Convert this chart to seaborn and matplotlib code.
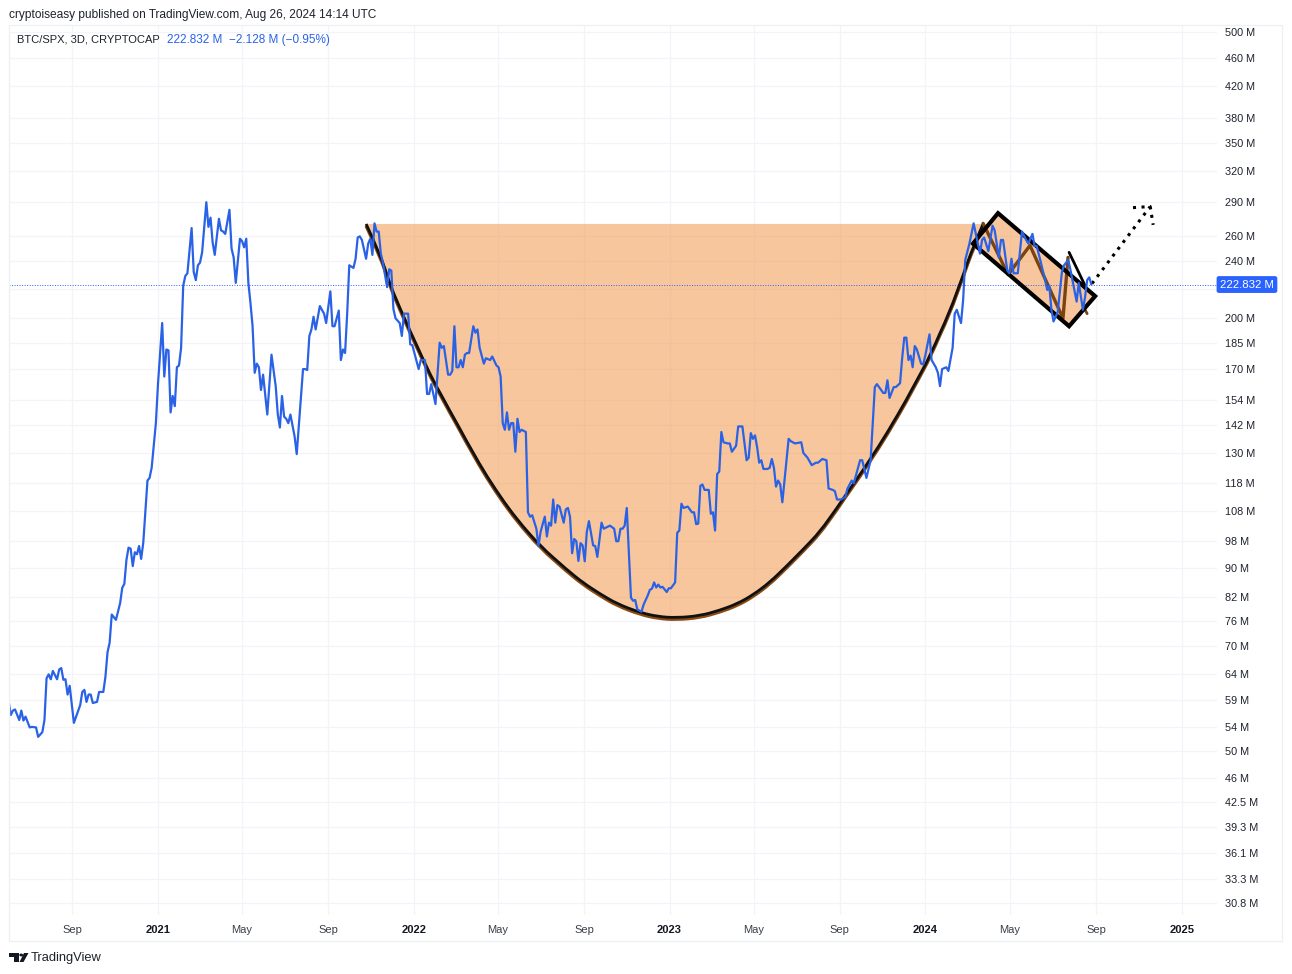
import matplotlib
matplotlib.use("Agg")
import matplotlib.pyplot as plt
import matplotlib.dates as mdates
from matplotlib.patches import Rectangle, Circle, Polygon, PathPatch
from matplotlib.path import Path
from matplotlib.transforms import blended_transform_factory
import numpy as np
import pandas as pd
import seaborn as sns

# ---- data: (3-day bar number counted from 2021-01-01, BTC/SPX in millions) ----
bars_2020 = [(-71,58.6),(-70,56.2),(-69,57),(-68,57.2),(-66,55.3),(-65,57),(-64,55.2),(-63,55.9),(-61,54),(-60,54.1),
    (-58,54),(-57,52.4),(-55,53.2),(-54,55.3),(-53,63.2),(-52,64),(-51,63),(-50,64.7),(-48,63),(-47,65),(-46,65.3),
    (-45,62.9),(-44,63),(-43,60),(-42,61.7),(-40,54.8),(-37,58),(-36,60.5),(-35,60.9),(-34,58.6),(-33,60),(-32,60),
    (-31,58.4),(-29,58.6),(-28,60.5),(-26,60.5),(-25,63.5),(-24,68.7),(-23,70.8),(-22,77.5),(-20,76.2),(-18,80.4),
    (-17,84.4),(-16,85.5),(-15,92.3),(-14,96),(-13,95.7),(-12,90.5),(-11,94.6),(-10,94),(-9,96.5),(-8,92.6),(-7,97.5),
    (-5,119),(-4,120),(-3,124),(-1,143)]
bars_2021 = [(0,162),(2,197),(3,166),(4,181),(5,180.5),(6,148),(7,156),(8,151),(9,171),(10,172),(11,182),(12,222),(13,229),
    (14,231),(16,267),(17,232),(18,226),(19,237),(20,239),(21,247),(23,290),(24,268),(25,276),(26,255),(27,245),(29,275),
    (30,265),(31,264),(32,262),(34,283),(35,250),(36,243),(37,224),(39,258),(40,256),(41,251),(42,258),(43,224),(44,210),
    (45,195),(46,168),(47,173),(48,171),(49,159),(50,167),(52,147),(54,178),(56,161),(57,147),(58,141),(59,156),(60,146),
    (61,145),(62,143),(63,147),(65,137),(66,129.5),(69,170),(70,170),(71,169.5),(72,189),(73,193),(74,201),(75,193),
    (77,208),(79,203),(80,197),(82,218),(83,195),(84,195),(86,205),(87,175),(88,181),(89,179),(90,203),(91,237),(93,235),
    (94,242),(95,259),(96,260),(97,257),(99,242),(100,254),(101,258),(102,245),(103,271),(104,264),(105,264),(106,246),
    (107,239),(109,221),(110,234),(111,233),(112,206),(113,200),(115,197),(116,189),(117,203),(119,203)]
bars_2022 = [(120,184),(121,183.5),(124,170),(125,175),(127,175),(128,157),(129,157),(130,162),(132,152),(133,168),(134,185),
    (135,182),(136,183),(138,167),(139,167),(140,169),(141,195),(142,171),(143,171),(144,175),(145,171),(146,178),(147,179),
    (148,179),(150,195),(151,191),(152,193),(153,182),(155,173),(156,176),(158,175),(159,177),(161,172),(162,171),(163,166),
    (164,143),(165,140),(166,148),(167,140),(168,143),(169,143),(170,130.5),(171,145),(172,139),(173,140),(175,139),
    (176,107.5),(177,106),(178,106.5),(180,102),(181,96.5),(182,101),(184,106),(185,99.5),(186,104),(187,103),(188,112),
    (189,104),(190,110),(191,109.5),(193,104),(194,108.5),(195,109),(196,106),(197,94.3),(198,98.7),(199,98),(200,92),
    (201,97.4),(202,96.7),(203,91.9),(204,101),(205,104.5),(207,96.7),(208,96.5),(209,93.2),(210,98.4),(211,104),(212,102),
    (215,103),(217,102),(218,98),(219,98),(220,102),(221,102),(222,103),(223,109),(225,81.8),(226,81),(227,81.2),(228,78.8),
    (230,78.2),(231,80),(233,82.4),(234,83.9),(235,84.2),(236,85.9),(237,84.5),(238,85.3),(239,84.5),(240,84.7),(242,83.3)]
bars_2023 = [(243,84.3),(244,84.3),(246,85.9),(247,100.7),(248,101.4),(249,110.5),(250,109),(252,109.5),(254,107.5),(255,107.5),
    (256,103.5),(257,103.7),(258,117),(259,117.5),(260,115.5),(262,115.5),(263,107),(264,107.5),(265,101.4),(266,121.5),
    (267,122.5),(268,139),(269,134.5),(271,134),(272,134),(273,130.5),(275,133),(276,141.5),(278,141.5),(280,127),(281,128),
    (282,138.5),(283,136),(284,137.5),(285,132.5),(286,126),(287,127),(288,123.5),(290,123.5),(291,124),(292,127.5),(293,124),
    (294,116.7),(295,119),(296,117.5),(297,111),(300,136),(301,135),(303,134),(306,134.5),(307,130),(309,128),(311,125),
    (313,126),(314,126),(316,127.5),(318,127),(319,116),(321,115.5),(322,115),(323,112),(325,112),(327,113),(328,116),(330,119),
    (331,118),(334,127),(335,127),(337,120),(339,127),(341,160.5),(342,162),(345,157.5),(346,157.5),(347,164),(348,155),
    (350,160.5),(351,160.5),(353,162.5),(354,176),(355,188),(356,188),(357,175),(358,177.5),(359,171),(360,183),(361,181),
    (363,173),(364,172.5)]
bars_2024 = [(365,177.5),(367,190),(368,175),(370,171),(371,168),(372,161),(373,170),(375,171),(376,169),(378,182),(379,203),
    (380,205.5),(382,197),(383,212),(384,241),(386,254),(388,271),(391,246),(392,257),(393,259),(395,248),(397,269),(398,265),
    (400,243),(401,257),(402,257),(404,233),(405,231),(406,242),(407,231),(409,231),(411,264),(413,257),(414,254),(416,262),
    (417,252),(418,252),(420,239),(422,226),(423,219),(424,222),(425,205.5),(426,198),(428,204),(430,232),(431,237),(433,241),
    (434,234),(437,211),(438,224),(440,205.5),(441,214),(442,226),(443,228),(444,222.832)]

cup_curve = [(99,270.5),(105.6,246),(110.4,222.5),(115.1,206.6),(119.9,192),(125.6,176.7),(130.8,164),(138.9,148.6),(147,134.6),
    (154.6,123),(162.7,113.1),(170.8,105),(181.7,96.5),(194.6,89.4),(202.2,85.8),(210.3,82.8),(218.4,80.2),(229.3,78),(237.9,77),
    (246.4,76.7),(257.8,77.2),(267.4,78.6),(275.4,80.2),(283,82.5),(291.2,86),(299.2,90.6),(306.8,95.4),(314.9,101),(323,109),
    (330.6,117.5),(335.4,123),(344.9,135.5),(354.4,151),(361,164),(367.2,177),(376.8,204.5),(383,229.5),(387.7,251),(392.5,270.5)]
flag_box = [(399.6,280),(445.8,214.7),(433.4,195),(387.7,254)]
flag_zigzag = [(392.5,271),(404.4,230),(414.8,252.5),(430.5,200),(432.9,243)]
flag_leg = [(433.4,247),(442,219)]
flag_end = [(440,208),(442,203)]
target_line = [(444.3,223.5),(472,286)]
target_head = [(463.8,285),(472,286),(473.4,269.7)]

price_ticks = [500,460,420,380,350,320,290,260,240,220,200,185,170,154,142,130,118,108,98,90,82,76,70,64,59,54,50,46,42.5,39.3,36.1,33.3,30.8]
time_ticks = ["2020-09-01","2021-01-01","2021-05-01","2021-09-01","2022-01-01","2022-05-01","2022-09-01","2023-01-01",
              "2023-05-01","2023-09-01","2024-01-01","2024-05-01","2024-09-01","2025-01-01"]
time_labels = ["Sep","2021","May","Sep","2022","May","Sep","2023","May","Sep","2024","May","Sep","2025"]
last_price = 222.832

FONT = "Liberation Sans"
BLUE = "#2962E6"
ORANGE = "#F17F1F"
GRID = "#F3F4F9"

sns.set_theme(style="white")
plt.rcParams["font.family"] = [FONT, "DejaVu Sans"]

W, H = 1292, 974
fig = plt.figure(figsize=(W / 100, H / 100), dpi=100, facecolor="white")
ax = fig.add_axes([9 / W, 1 - 915 / H, 1208 / W, 890 / H])

origin = pd.Timestamp("2021-01-01")
def to_date(b):
    return origin + pd.to_timedelta(np.asarray(b, dtype=float) * 3, unit="D")
def split(pairs):
    a = np.array(pairs, dtype=float)
    return to_date(a[:, 0]), a[:, 1]
def num_xy(pairs):
    x, y = split(pairs)
    return np.column_stack([mdates.date2num(x), y])
def smooth_path(pts, scale=1.0, closed=False):
    # quadratic curve with the read points as control points
    p = pts.copy()
    p[:, 1] = p[:, 1] * scale
    verts, codes = [p[0]], [Path.MOVETO]
    for i in range(1, len(p) - 1):
        end = p[i + 1] if i == len(p) - 2 else (p[i] + p[i + 1]) / 2
        verts += [p[i], end]
        codes += [Path.CURVE3, Path.CURVE3]
    if closed:
        verts.append(p[0])
        codes.append(Path.CLOSEPOLY)
    return Path(np.array(verts), codes)

pairs = bars_2020 + bars_2021 + bars_2022 + bars_2023 + bars_2024
dates, values = split(pairs)
df = pd.DataFrame({"date": dates, "value": values})

ax.set_yscale("log")
ax.set_ylim(29.63, 511.3)
ax.set_xlim(origin - pd.Timedelta(days=212.6), origin + pd.Timedelta(days=1511.3))
ax.set_facecolor("white")

# cup fill and outline
cup = num_xy(cup_curve)
ax.add_patch(PathPatch(smooth_path(cup, closed=True), facecolor=ORANGE, alpha=0.44, lw=0, zorder=1.5))
ax.add_patch(PathPatch(smooth_path(cup, 0.994), fill=False, edgecolor="#8A4A14", lw=2.4, zorder=2, capstyle="butt"))
ax.add_patch(PathPatch(smooth_path(cup), fill=False, edgecolor="#111111", lw=2.0, zorder=2.1, capstyle="butt"))

# flag
box = num_xy(flag_box)
ax.add_patch(Polygon(box, closed=True, facecolor=ORANGE, alpha=0.44, lw=0, zorder=1.6))
ax.add_patch(Polygon(box, closed=True, fill=False, edgecolor="black", lw=3.0, zorder=2.4, joinstyle="miter"))
zx, zy = split(flag_zigzag)
ax.plot(zx, zy, color="#7A4310", lw=2.4, zorder=2.2)
ex, ey = split(flag_end)
ax.plot(ex, ey, color="#7A4310", lw=2.0, zorder=2.2)
lx, ly = split(flag_leg)
ax.plot(lx, ly, color="black", lw=2.0, zorder=2.3)

# dotted projection
for seg in (target_line, target_head):
    sx, sy = split(seg)
    ax.plot(sx, sy, color="black", lw=2.2, linestyle=(0, (1, 1.8)), dash_capstyle="butt", zorder=2.3)

# last price line
ax.axhline(last_price, color="#2962FF", lw=0.7, linestyle=(0, (1, 1.6)), zorder=2)

sns.lineplot(data=df, x="date", y="value", ax=ax, color=BLUE, lw=1.6, estimator=None, sort=False, zorder=3)

# axes furniture
ax.set_xlabel("")
ax.set_ylabel("")
ax.yaxis.tick_right()
ax.yaxis.set_minor_locator(matplotlib.ticker.NullLocator())
ax.set_yticks(price_ticks)
ax.set_yticklabels(["" if p == 220 else f"{p:g} M" for p in price_ticks])
ax.set_xticks(pd.to_datetime(time_ticks))
ax.set_xticklabels(time_labels)
ax.tick_params(axis="y", length=0, pad=5.5, labelsize=7.8, labelcolor="#1E222D")
ax.tick_params(axis="x", length=0, pad=7.5, labelsize=8.0, labelcolor="#3A3E4A")
for lab in ax.get_xticklabels():
    if lab.get_text().isdigit():
        lab.set_fontweight("bold")
        lab.set_color("#131722")
ax.grid(True, which="major", color=GRID, lw=0.9, zorder=0)
ax.set_axisbelow(True)
for s in ax.spines.values():
    s.set_visible(False)

# last price badge
tr = blended_transform_factory(ax.transAxes, ax.transData)
ax.text(1.0025, last_price, "222.832 M", transform=tr, ha="left", va="center", fontsize=8.2, color="white", zorder=6, clip_on=False,
        bbox=dict(boxstyle="round,pad=0.3,rounding_size=0.2", facecolor="#2962FF", edgecolor="none"))

# outer frame
fig.add_artist(Rectangle((9 / W, 1 - 941 / H), 1273 / W, 916 / H, transform=fig.transFigure, fill=False, edgecolor="#EEF0F4", lw=1.0))

def px_text(x, y, s, **kw):
    fig.text(x / W, 1 - y / H, s, va="center", **kw)

px_text(9, 15, "cryptoiseasy published on TradingView.com, Aug 26, 2024 14:14 UTC", fontsize=8.52, color="#1E222D")
px_text(17, 40, "BTC/SPX, 3D, CRYPTOCAP", fontsize=8.05, color="#1E222D")
px_text(167, 40, "222.832 M", fontsize=8.5, color=BLUE)
px_text(229, 40, "\u22122.128 M (\u22120.95%)", fontsize=8.5, color=BLUE)
px_text(31, 958, "TradingView", fontsize=9.3, color="#1E222D")

# TradingView logo
def px_xy(pts):
    return [(x / W, 1 - y / H) for x, y in pts]
ink = "#131722"
fig.add_artist(Polygon(px_xy([(9.3, 953), (19, 953), (19, 962), (14, 962), (14, 956.5), (9.3, 956.5)]), closed=True, transform=fig.transFigure, facecolor=ink, edgecolor="none"))
fig.add_artist(Polygon(px_xy([(24, 953), (28.5, 953), (23.5, 962), (19.5, 962)]), closed=True, transform=fig.transFigure, facecolor=ink, edgecolor="none"))
fig.add_artist(Circle((21.2 / W, 1 - 955 / H), 1.9 / W, transform=fig.transFigure, facecolor=ink, edgecolor="none"))

fig.savefig("out.png", dpi=100, facecolor="white")
